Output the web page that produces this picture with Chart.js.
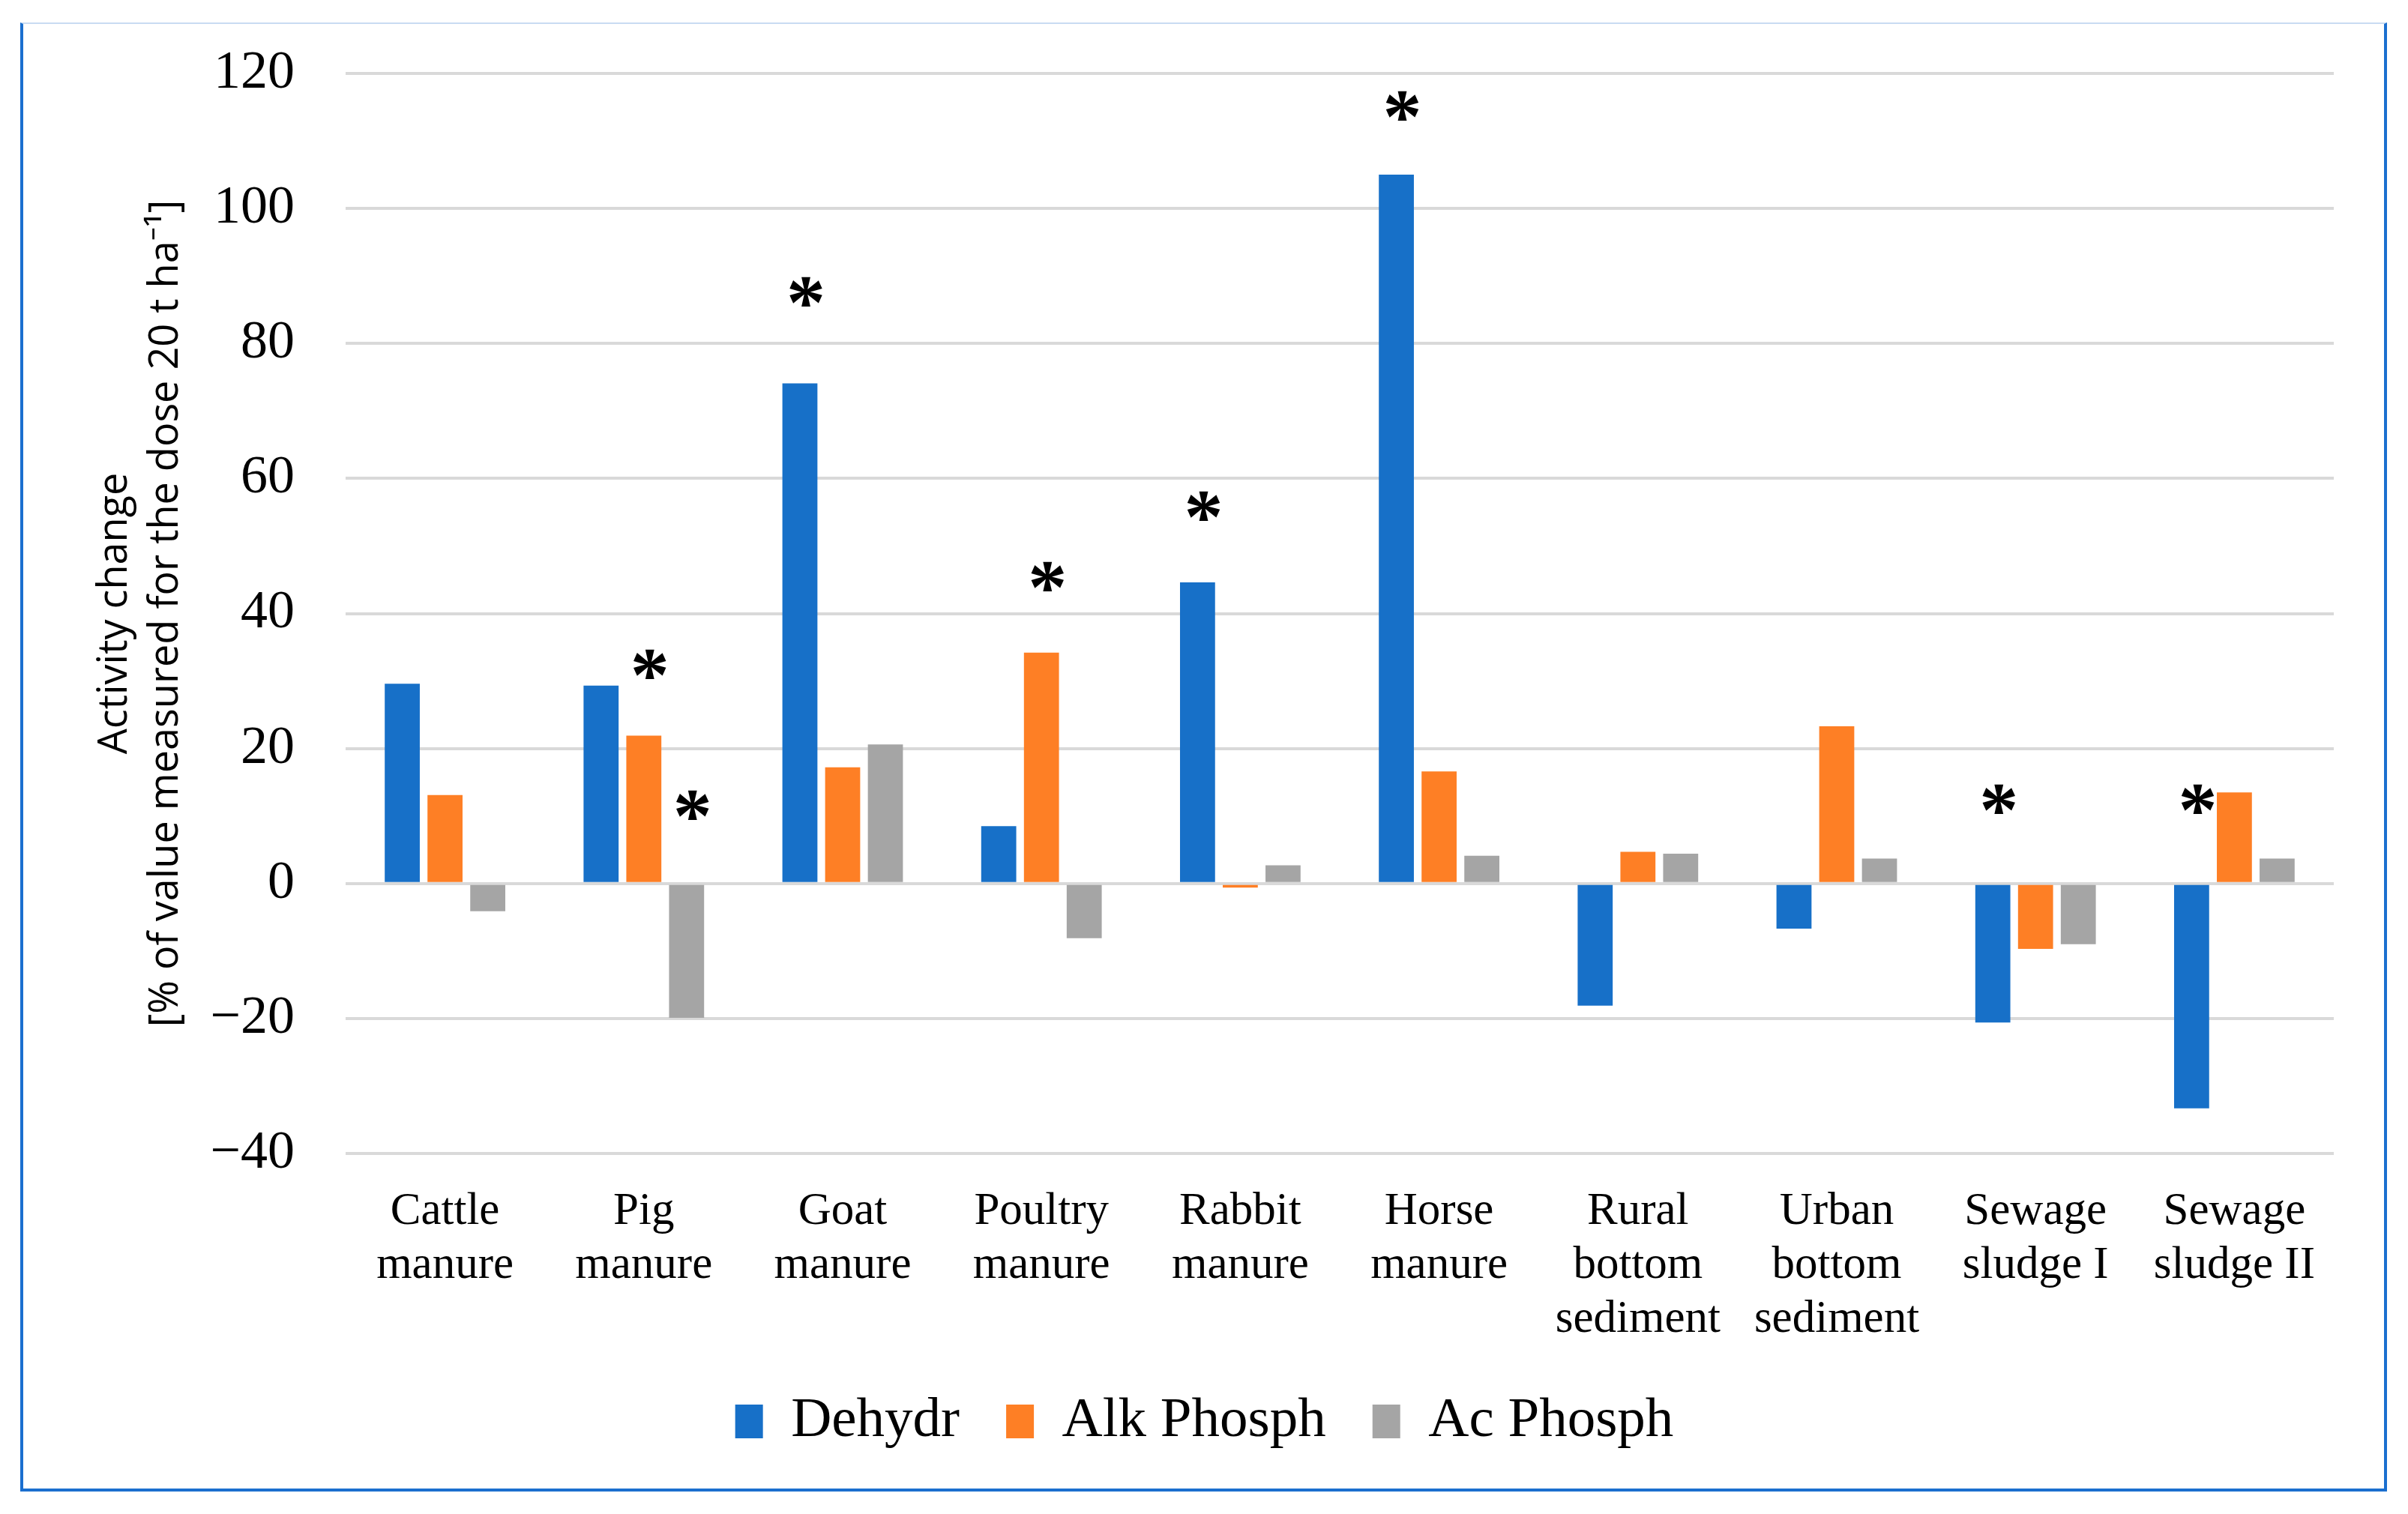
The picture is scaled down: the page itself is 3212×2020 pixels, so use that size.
<!DOCTYPE html>
<html>
<head>
<meta charset="utf-8">
<script src="https://cdn.jsdelivr.net/npm/chart.js@4.4.1/dist/chart.umd.min.js"></script>
<style>
  html, body { margin: 0; padding: 0; background: #ffffff; }
  #wrap { position: relative; width: 3212px; height: 2020px; background: #ffffff; }
  #c { position: absolute; left: 0; top: 0; }
  #frame {
    position: absolute; left: 27px; top: 30px; width: 3157px; height: 1960px;
    box-sizing: border-box; border: 4px solid #1b6fcf; border-top: 2px solid #c9dbf2;
    pointer-events: none;
  }
</style>
</head>
<body>
<div id="wrap">
  <canvas id="c" width="3212" height="2020"></canvas>
  <div id="frame"></div>
</div>
<script>
// ---- data ----
const categories = [
  ["Cattle", "manure"],
  ["Pig", "manure"],
  ["Goat", "manure"],
  ["Poultry", "manure"],
  ["Rabbit", "manure"],
  ["Horse", "manure"],
  ["Rural", "bottom", "sediment"],
  ["Urban", "bottom", "sediment"],
  ["Sewage", "sludge I"],
  ["Sewage", "sludge II"]
];
const seriesNames = ["Dehydr", "Alk Phosph", "Ac Phosph"];
const dehydr    = [29.6, 29.3, 74.1, 8.5, 44.6, 105.0, -18.1, -6.7, -20.6, -33.3];
const alkPhosph = [13.1, 21.9, 17.2, 34.2, -0.6, 16.6, 4.7, 23.3, -9.7, 13.5];
const acPhosph  = [-4.1, -19.9, 20.6, -8.1, 2.7, 4.1, 4.4, 3.7, -9.0, 3.7];
const yMin = -40, yMax = 120, yStep = 20;
// significance asterisks: category index, series index, level (value units)
const sigCategory = [1, 1, 2, 3, 4, 5, 8, 9];
const sigSeries   = [1, 2, 0, 1, 0, 0, 0, 0];
const sigLevel    = [32.5, 11.6, 87.7, 45.5, 55.9, 115.2, 12.5, 12.5];

const colors = ["#1770C8", "#FE7F25", "#A5A5A5"];
const serif = '"Liberation Serif", "Times New Roman", serif';
const sans = '"Open Sans", "Noto Sans", sans-serif';

const asteriskPlugin = {
  id: 'asterisks',
  afterDatasetsDraw(chart) {
    const ctx = chart.ctx;
    const y = chart.scales.y;
    ctx.save();
    ctx.font = 'bold 104px ' + serif;
    ctx.fillStyle = '#000';
    ctx.textAlign = 'center';
    ctx.textBaseline = 'alphabetic';
    const m = ctx.measureText('*');
    const shift = (m.actualBoundingBoxAscent - m.actualBoundingBoxDescent) / 2;
    for (let i = 0; i < sigCategory.length; i++) {
      const meta = chart.getDatasetMeta(sigSeries[i]);
      const bar = meta.data[sigCategory[i]];
      const py = y.getPixelForValue(sigLevel[i]);
      ctx.fillText('*', bar.x + 8, py + shift);
    }
    ctx.restore();
  }
};

new Chart(document.getElementById('c'), {
  type: 'bar',
  data: {
    labels: categories,
    datasets: [
      { label: seriesNames[0], data: dehydr, backgroundColor: colors[0] },
      { label: seriesNames[1], data: alkPhosph, backgroundColor: colors[1] },
      { label: seriesNames[2], data: acPhosph, backgroundColor: colors[2] }
    ]
  },
  options: {
    responsive: false,
    devicePixelRatio: 1,
    animation: false,
    layout: { padding: { left: 100, right: 99, top: 98, bottom: 76 } },
    datasets: { bar: { categoryPercentage: 0.645, barPercentage: 0.82 } },
    plugins: {
      legend: {
        position: 'bottom',
        labels: {
          font: { family: serif, size: 75 },
          color: '#000',
          boxWidth: 37,
          boxHeight: 45,
          padding: 62
        }
      },
      tooltip: { enabled: false }
    },
    scales: {
      x: {
        grid: { display: false, drawTicks: false },
        border: { display: false },
        ticks: { font: { family: serif, size: 61, lineHeight: 1.18 }, color: '#000', padding: 42, maxRotation: 0, autoSkip: false },
        afterFit(scale) { scale.height = 258; }
      },
      y: {
        min: yMin, max: yMax,
        grid: { color: '#D9D9D9', lineWidth: 4, drawTicks: false },
        border: { display: false },
        ticks: {
          stepSize: yStep,
          font: { family: serif, size: 72 },
          color: '#000',
          padding: 68,
          callback: (v) => String(v).replace('-', '\u2212')
        },
        title: {
          display: true,
          text: ['Activity change', '[% of value measured for the dose 20 t ha\u207B\u00B9]'],
          font: { family: sans, size: 54, lineHeight: 1.25 },
          color: '#000',
          padding: { top: 20, bottom: 0 }
        },
        afterFit(scale) {
          scale.width = 361;
          scale.paddingTop = 0;
          scale.paddingBottom = 0;
        }
      }
    }
  },
  plugins: [asteriskPlugin]
});
</script>
</body>
</html>
